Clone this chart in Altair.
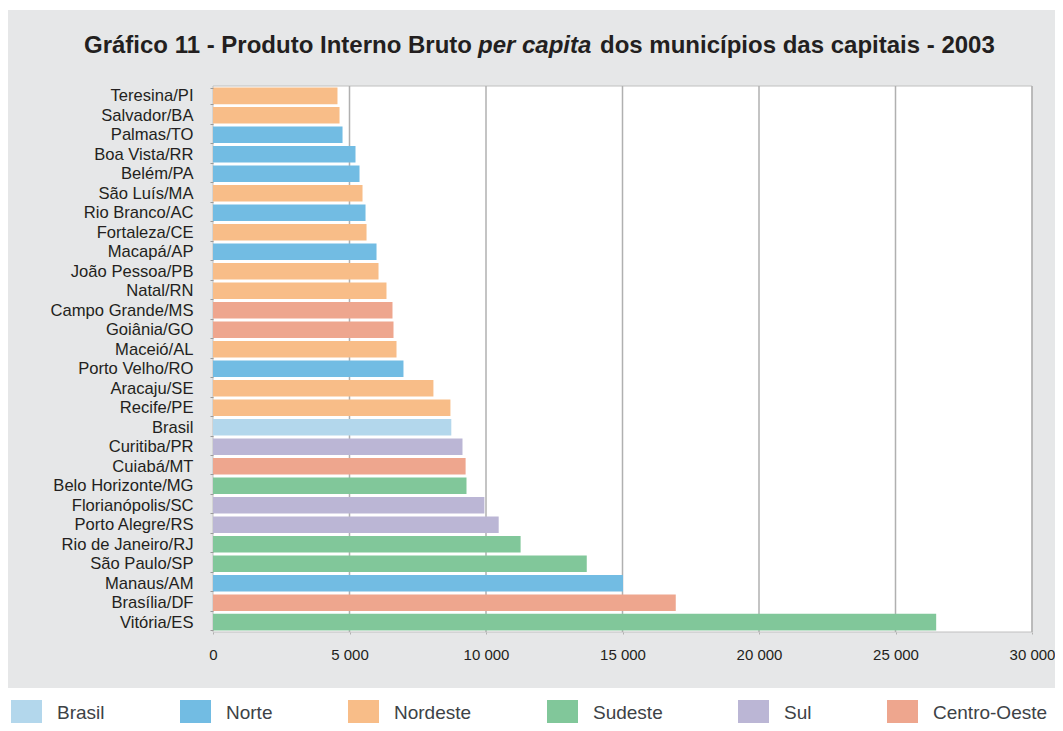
import altair as alt
import pandas as pd

TITLE_PARTS = ["Gráfico 11 - Produto Interno Bruto", "per capita", "dos municípios das capitais - 2003"]

CITIES = ["Teresina/PI", "Salvador/BA", "Palmas/TO", "Boa Vista/RR", "Belém/PA", "São Luís/MA",
          "Rio Branco/AC", "Fortaleza/CE", "Macapá/AP", "João Pessoa/PB", "Natal/RN",
          "Campo Grande/MS", "Goiânia/GO", "Maceió/AL", "Porto Velho/RO", "Aracaju/SE",
          "Recife/PE", "Brasil", "Curitiba/PR", "Cuiabá/MT", "Belo Horizonte/MG",
          "Florianópolis/SC", "Porto Alegre/RS", "Rio de Janeiro/RJ", "São Paulo/SP",
          "Manaus/AM", "Brasília/DF", "Vitória/ES"]
VALUES = [4560, 4635, 4745, 5220, 5367, 5477, 5587, 5624, 5990, 6063, 6355, 6575, 6612, 6722,
          6977, 8074, 8697, 8729, 9139, 9253, 9286, 9941, 10465, 11268, 13691, 15018, 16951, 26490]
REGIONS = ["Nordeste", "Nordeste", "Norte", "Norte", "Norte", "Nordeste", "Norte", "Nordeste",
           "Norte", "Nordeste", "Nordeste", "Centro-Oeste", "Centro-Oeste", "Nordeste", "Norte",
           "Nordeste", "Nordeste", "Brasil", "Sul", "Centro-Oeste", "Sudeste", "Sul", "Sul",
           "Sudeste", "Sudeste", "Norte", "Centro-Oeste", "Sudeste"]
LEGEND_ORDER = ["Brasil", "Norte", "Nordeste", "Sudeste", "Sul", "Centro-Oeste"]
LEGEND_COLORS = ["#b3d7ec", "#72bce3", "#f8bd88", "#81c79a", "#bbb6d5", "#eea68e"]
X_TICKS = [0, 5000, 10000, 15000, 20000, 25000, 30000]

W, H = 819, 546
FONT = "Liberation Sans"
TEXT_COLOR = "#231f20"

df = pd.DataFrame({"cidade": CITIES, "pib": VALUES, "regiao": REGIONS})
grid_df = pd.DataFrame({"v": X_TICKS[1:]})
one = alt.Data(values=[{}])

xscale = alt.Scale(domain=[0, 30000], nice=False)
xaxis = alt.Axis(title=None, values=X_TICKS,
                 labelExpr="replace(format(datum.value, ','), ',', ' ')",
                 labelFont=FONT, labelFontSize=15, labelColor=TEXT_COLOR,
                 tickSize=2, tickColor="#b0b0b0", domain=False, grid=False,
                 labelPadding=13, labelFlush=False, zindex=1)
yaxis = alt.Axis(title=None, labelFont=FONT, labelFontSize=16.6, labelColor=TEXT_COLOR,
                 tickBand="extent", tickSize=3, tickColor="#9a9a9a", domain=False,
                 labelPadding=17, labelLimit=300, zindex=1)

bg = alt.Chart(one).mark_rect(fill="#e6e7e8").encode(
    x=alt.value(-205), x2=alt.value(W + 23), y=alt.value(-76), y2=alt.value(602))
plot_bg = alt.Chart(one).mark_rect(fill="white", stroke="#c0c0c0", strokeWidth=1).encode(
    x=alt.value(0), x2=alt.value(W), y=alt.value(0), y2=alt.value(H))
grid = alt.Chart(grid_df).mark_rule(color="#b0b0b0", strokeWidth=1.5).encode(
    x=alt.X("v:Q", scale=xscale, axis=xaxis), y=alt.value(0), y2=alt.value(H))

bars = alt.Chart(df).mark_bar().encode(
    x=alt.X("pib:Q", scale=xscale, axis=xaxis),
    y=alt.Y("cidade:N", sort=CITIES,
            scale=alt.Scale(paddingInner=0.15, paddingOuter=0.08), axis=yaxis),
    color=alt.Color("regiao:N",
                    scale=alt.Scale(domain=LEGEND_ORDER, range=LEGEND_COLORS),
                    legend=alt.Legend(title=None, orient="none", legendX=-199, legendY=614,
                                      direction="horizontal",
                                      symbolType="M-1.24,-1H1.24V1H-1.24Z", symbolSize=625,
                                      symbolStrokeWidth=0, symbolOpacity=1,
                                      labelFont=FONT, labelFontSize=19, labelColor="#3d4246",
                                      labelOffset=18, columnPadding=75)),
)

TITLE_STYLE = dict(font=FONT, fontSize=24, fontWeight="bold", baseline="alphabetic",
                   color=TEXT_COLOR)
t1 = alt.Chart(one).mark_text(align="right", **TITLE_STYLE).encode(
    x=alt.value(259), y=alt.value(-33), text=alt.value(TITLE_PARTS[0]))
t2 = alt.Chart(one).mark_text(align="left", fontStyle="italic", **TITLE_STYLE).encode(
    x=alt.value(265), y=alt.value(-33), text=alt.value(TITLE_PARTS[1]))
t3 = alt.Chart(one).mark_text(align="left", **TITLE_STYLE).encode(
    x=alt.value(387), y=alt.value(-33), text=alt.value(TITLE_PARTS[2]))

chart = alt.layer(bg, plot_bg, grid, bars, t1, t2, t3).properties(
    width=W, height=H,
    padding={"left": 205, "top": 78, "right": 23, "bottom": 91},
    autosize=alt.AutoSizeParams(type="none"),
).configure_view(stroke="transparent").configure(background="white")

chart.save("out.html", embed_options={"renderer": "svg", "actions": False})
